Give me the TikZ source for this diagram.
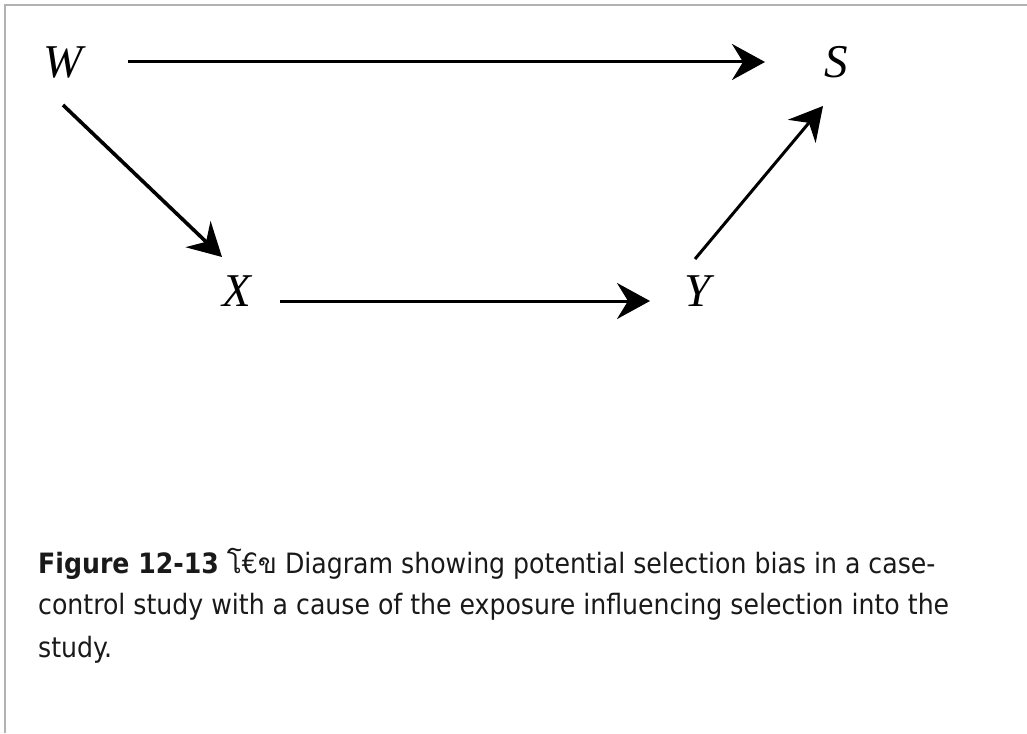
\documentclass[tikz,border=0pt]{standalone}
\usepackage{fontspec}
\usetikzlibrary{arrows.meta}
\newfontfamily\varfont{Liberation Serif}
\newfontfamily\capfont{DejaVu Sans Condensed}
\newfontfamily\thaifont[Script=Thai]{Loma}

\begin{document}
\begin{tikzpicture}[x=1pt, y=-1pt,
    every node/.style={inner sep=0pt},
    vr/.style={font=\varfont\itshape\fontsize{47}{47}\selectfont},
    captxt/.style={anchor=base west, text=black!90,
                font=\capfont\fontsize{28}{28}\selectfont},
    e/.style={line width=3pt, -{Stealth[length=33pt, width=36pt, inset=11pt]}},
    frm/.style={draw=gray!60, line width=2pt},
  ]
  \useasboundingbox (0,0) rectangle (1027,733);
  \draw[frm] (5,733) -- (5,5) -- (1027,5);

  \node[vr] (W) at (63,62) {W};
  \node[vr] (S) at (836,62) {S};
  \node[vr] (X) at (237,291) {X};
  \node[vr] (Y) at (698,291) {Y};

  \draw[e, shorten <=65pt, shorten >=71pt] (W.center) -- (S.center);
  \draw[e, line width=3.6pt] ([yshift=-43pt]W.center) -- ([xshift=-15pt, yshift=34pt]X.center);
  \draw[e, shorten <=43pt, shorten >=48pt] ([yshift=-10pt]X.center) -- ([yshift=-10pt]Y.center);
  \draw[e] ([xshift=-3pt, yshift=32pt]Y.center) -- ([xshift=-13pt, yshift=-44pt]S.center);

  % caption
  \node[captxt] (c1) at (38,573) {\textbf{Figure 12-13} {\thaifont โ}€{\thaifont ข} Diagram showing potential selection bias in a case-};
  \node[captxt] (c2) at (38,614) {control study with a cause of the exposure influencing selection into the};
  \node[captxt] (c3) at (38,657) {study.};
\end{tikzpicture}
\end{document}
